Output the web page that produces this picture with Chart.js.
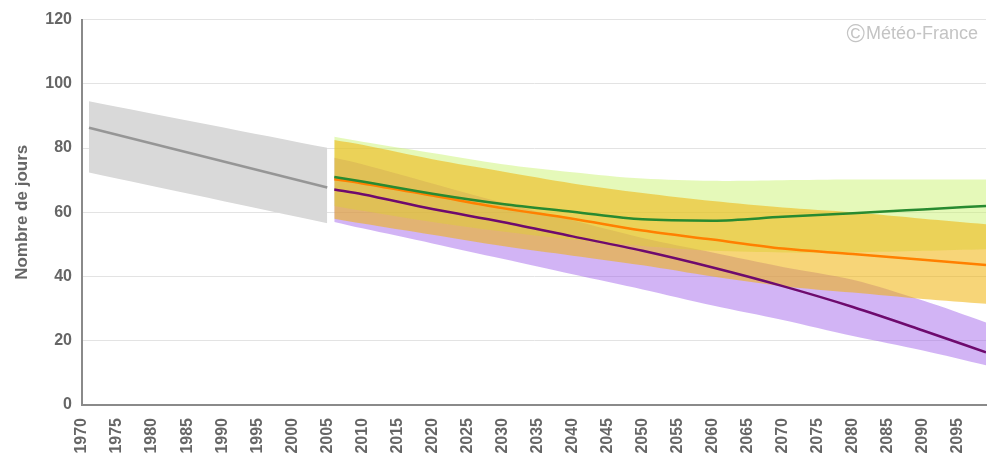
<!DOCTYPE html>
<html>
<head>
<meta charset="utf-8">
<script src="https://cdn.jsdelivr.net/npm/chart.js@4/dist/chart.umd.min.js"></script>
<style>
  html, body { margin: 0; padding: 0; background: #fff; }
  #wrap { width: 1004px; height: 458px; }
</style>
</head>
<body>
<div id="wrap"><canvas id="graph"></canvas></div>
<script>
// observed period
const histYears = [1971, 2005];
const histMean  = [86.3, 67.7];
const histUpper = [94.6, 80.1];
const histLower = [72.4, 56.6];

// projections
const projYears = [2006, 2010, 2020, 2030, 2040, 2050, 2060, 2070, 2080, 2090, 2099];
const greenMean   = [71.0, 69.6, 65.8, 62.6, 60.2, 57.8, 57.4, 58.6, 59.7, 60.9, 62.0];
const greenUpper  = [83.5, 82.0, 78.5, 75.0, 72.5, 70.5, 69.8, 70.0, 70.2, 70.2, 70.2];
const greenLower  = [62.0, 60.5, 57.0, 54.0, 51.5, 49.5, 48.0, 47.5, 47.5, 48.0, 48.5];
const orangeMean  = [70.3, 69.0, 65.2, 61.3, 58.0, 54.3, 51.5, 48.7, 47.0, 45.2, 43.6];
const orangeUpper = [82.5, 81.0, 76.5, 72.7, 69.0, 66.0, 63.5, 61.5, 60.0, 58.0, 56.3];
const orangeLower = [58.0, 56.5, 53.0, 49.5, 46.5, 43.5, 40.0, 37.0, 35.0, 33.0, 31.5];
const purpleMean  = [67.1, 65.6, 61.0, 57.0, 52.5, 48.0, 42.8, 37.0, 30.5, 23.2, 16.4];
const purpleUpper = [77.0, 75.0, 69.0, 63.0, 57.5, 52.0, 47.5, 43.0, 39.0, 32.5, 25.7];
const purpleLower = [57.0, 55.0, 50.3, 45.5, 40.7, 36.0, 31.0, 26.5, 21.5, 17.0, 12.4];

const yTicks = [0, 20, 40, 60, 80, 100, 120];

const textGrey = '#666666';
const tickFont = { family: "'Liberation Sans', Arial, sans-serif", size: 16, weight: 'bold' };

function pts(xs, ys) {
    return xs.map((x, i) => ({ x: x, y: ys[i] }));
}

function bandLower(xs, ys) {
    return { data: pts(xs, ys), borderWidth: 0, pointRadius: 0, fill: false, tension: 0.3, order: 20 };
}
function bandUpper(xs, ys, target, colour, order) {
    return { data: pts(xs, ys), borderWidth: 0, pointRadius: 0, tension: 0.3,
             fill: { target: target }, backgroundColor: colour, order: order };
}
function meanLine(xs, ys, colour, order) {
    return { data: pts(xs, ys), borderColor: colour, borderWidth: 2.5, pointRadius: 0,
             fill: false, cubicInterpolationMode: 'monotone', order: order };
}

const watermark = {
    id: 'watermark',
    afterDraw(chart) {
        const ctx = chart.ctx;
        ctx.save();
        ctx.fillStyle = '#c4c4c4';
        ctx.textBaseline = 'middle';
        ctx.textAlign = 'right';
        ctx.font = "18px 'Liberation Sans', Arial, sans-serif";
        ctx.fillText('Météo-France', 978, 34);
        const w = ctx.measureText('Météo-France').width;
        ctx.font = "25px 'Liberation Sans', Arial, sans-serif";
        ctx.fillText('©', 978 - w - 1, 35);
        ctx.restore();
    }
};

let graph_element = document.querySelector('#graph').getContext('2d');

let graph = new Chart(graph_element, {
    type: 'line',
    data: {
        datasets: [
            bandLower(histYears, histLower),                                   // 0
            bandUpper(histYears, histUpper, 0, 'rgb(217,217,217)', 13),       // 1
            bandLower(projYears, purpleLower),                                 // 2
            bandUpper(projYears, purpleUpper, 2, 'rgba(155,88,233,0.45)', 12), // 3
            bandLower(projYears, greenLower),                                  // 4
            bandUpper(projYears, greenUpper, 4, 'rgba(197,242,99,0.45)', 11),  // 5
            bandLower(projYears, orangeLower),                                 // 6
            bandUpper(projYears, orangeUpper, 6, 'rgba(240,179,10,0.55)', 10), // 7
            meanLine(histYears, histMean, 'rgb(150,150,150)', 3),
            meanLine(projYears, greenMean, 'rgb(40,138,48)', 0),
            meanLine(projYears, orangeMean, 'rgb(255,128,0)', 1),
            meanLine(projYears, purpleMean, 'rgb(110,10,110)', 2)
        ]
    },
    options: {
        responsive: true,
        maintainAspectRatio: false,
        animation: false,
        layout: { padding: { top: 7, right: 18, left: 0, bottom: 0 } },
        plugins: {
            legend: { display: false },
            tooltip: { enabled: false }
        },
        scales: {
            x: {
                type: 'linear',
                min: 1970,
                max: 2099,
                afterFit: (scale) => { scale.height = 53; scale.paddingRight = 0; },
                grid: { display: false, drawTicks: false },
                border: { display: true, color: '#8a8a8a', width: 2 },
                ticks: {
                    stepSize: 5,
                    autoSkip: false,
                    minRotation: 90,
                    maxRotation: 90,
                    padding: 13,
                    color: textGrey,
                    font: tickFont,
                    callback: (v) => (v % 5 === 0 ? String(v) : '')
                }
            },
            y: {
                min: 0,
                max: 120,
                afterFit: (scale) => { scale.width = 82; },
                afterBuildTicks: (scale) => { scale.ticks = yTicks.map(v => ({ value: v })); },
                grid: { color: '#e3e3e3', lineWidth: 1, drawTicks: false },
                border: { display: true, color: '#8a8a8a', width: 2 },
                ticks: {
                    padding: 10,
                    color: textGrey,
                    font: tickFont
                },
                title: {
                    display: true,
                    text: 'Nombre de jours',
                    color: textGrey,
                    font: { family: "'Liberation Sans', Arial, sans-serif", size: 17, weight: 'bold' },
                    padding: { top: 12, bottom: 0 }
                }
            }
        }
    },
    plugins: [watermark]
});
</script>
</body>
</html>
